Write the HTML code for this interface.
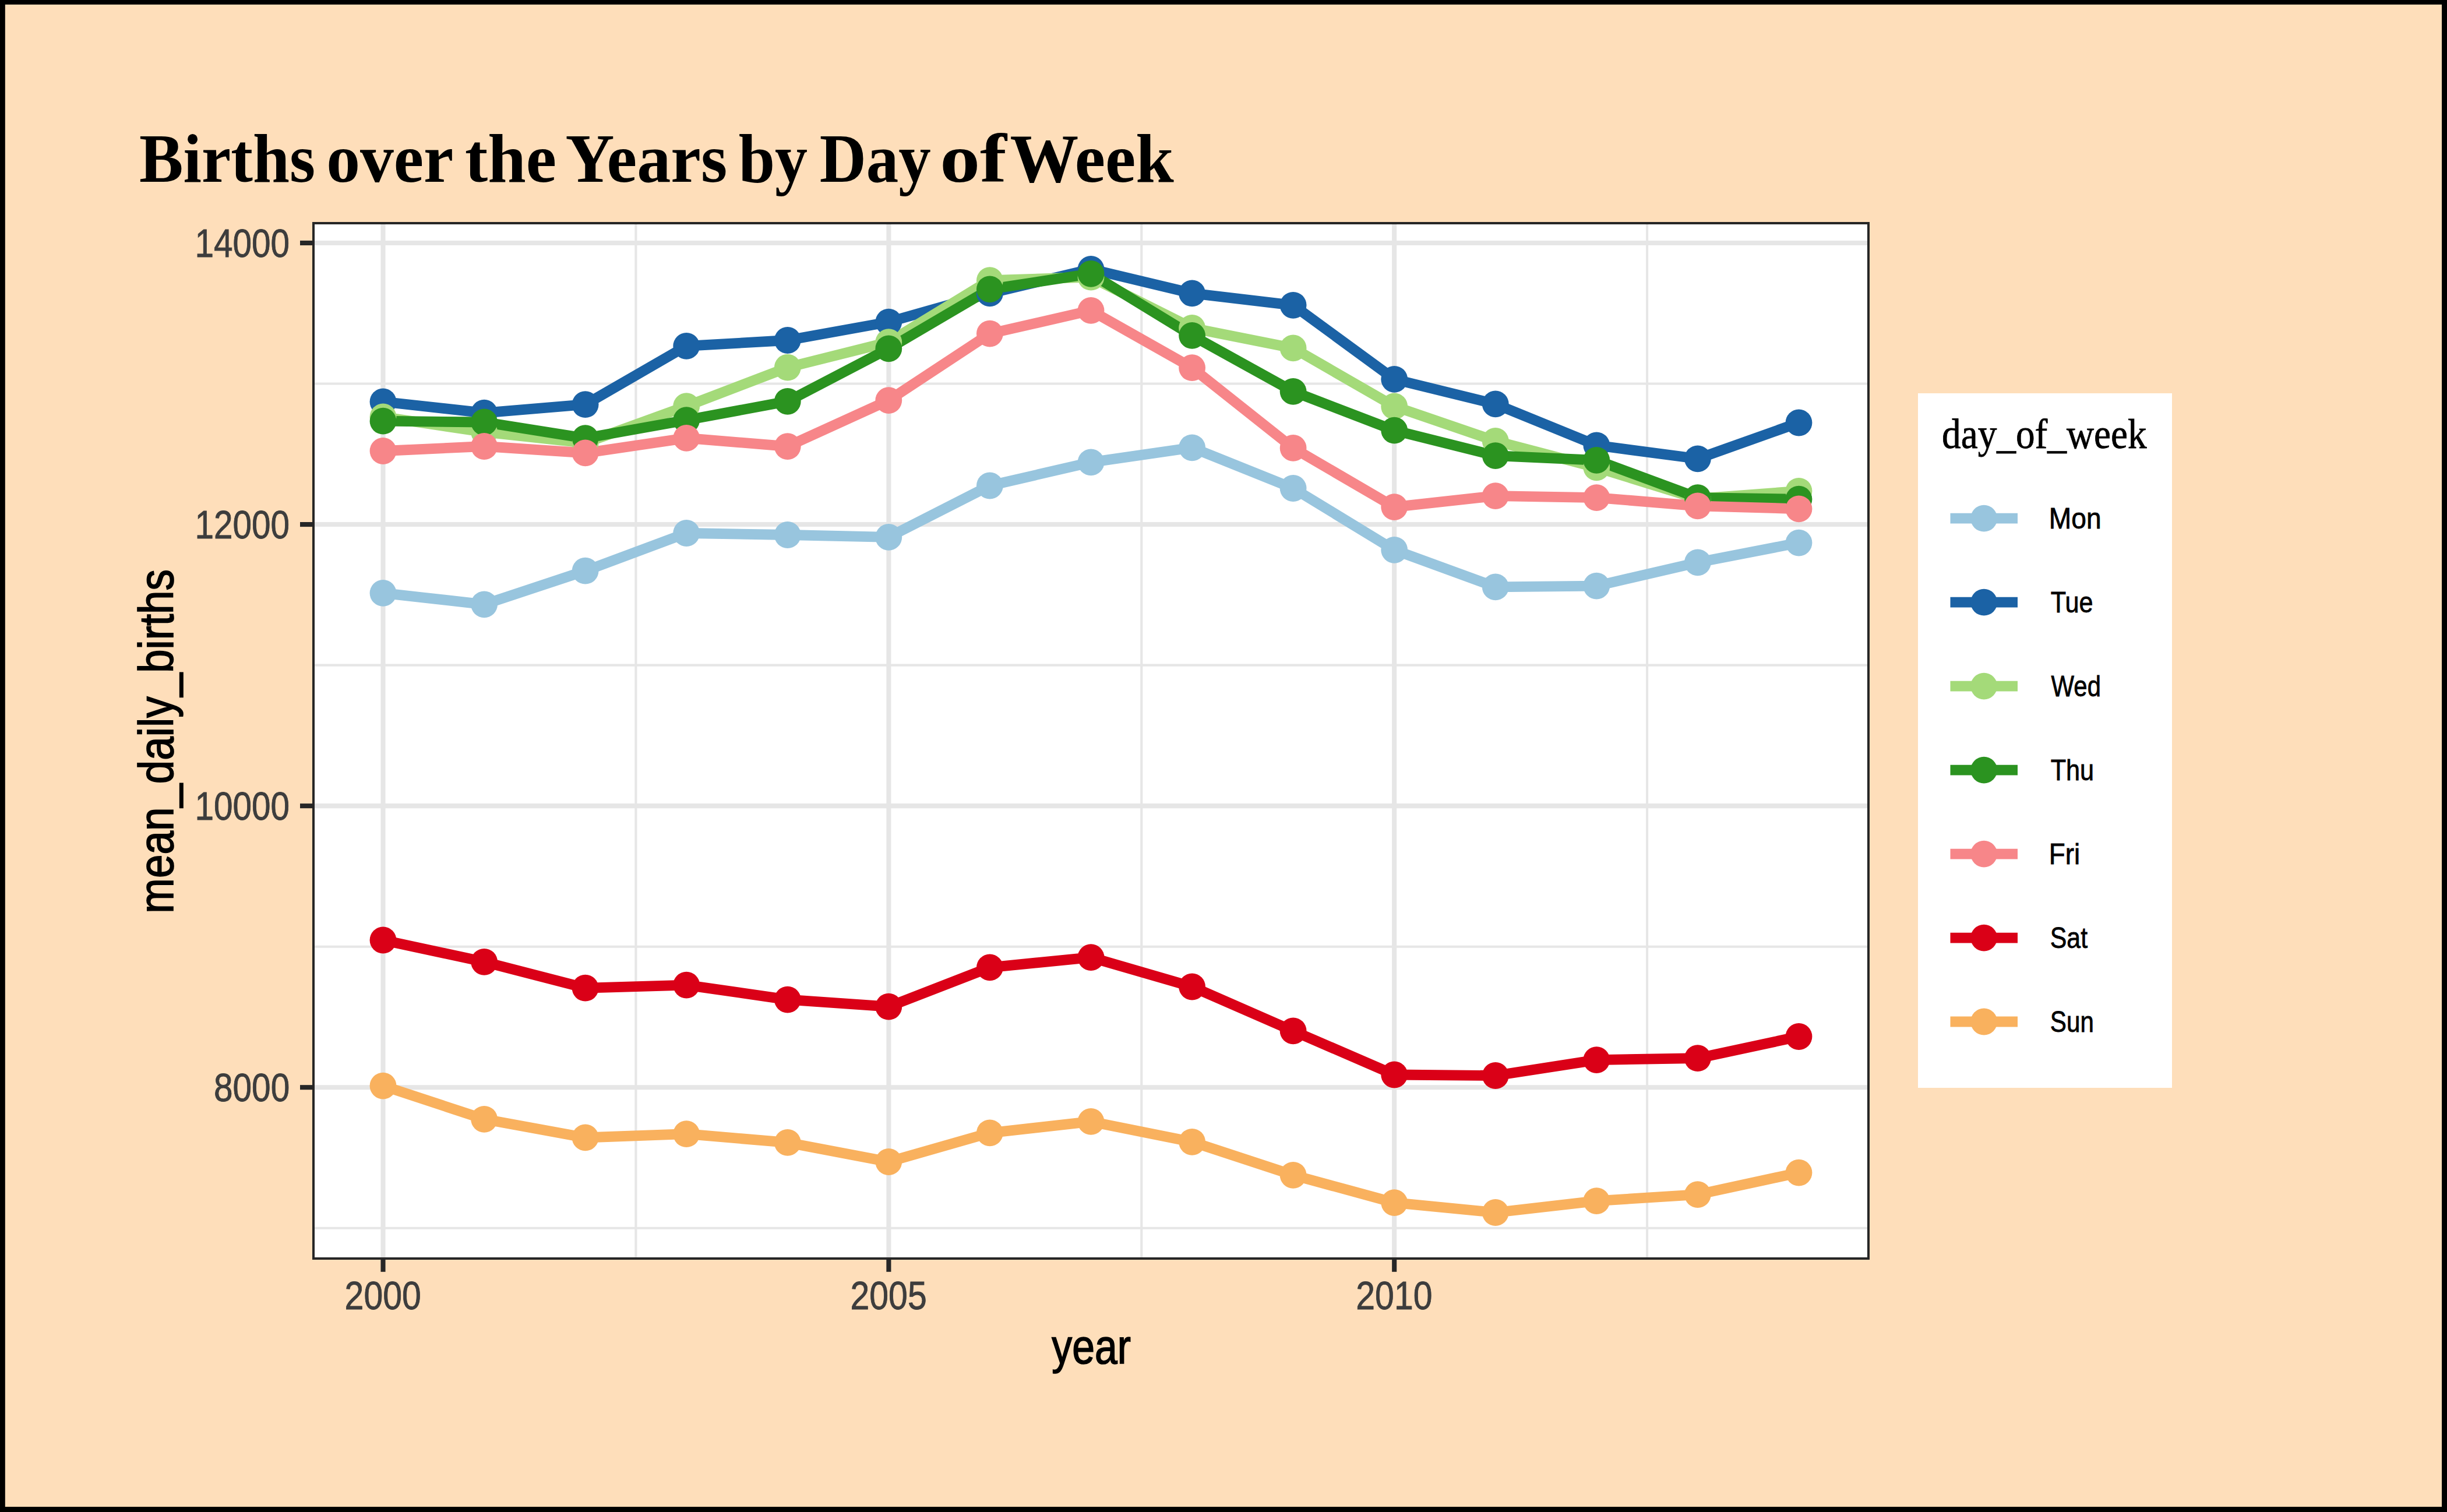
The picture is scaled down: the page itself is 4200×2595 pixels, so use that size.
<!DOCTYPE html>
<html lang="en">
<head>
<meta charset="utf-8">
<title>Births over the Years by Day of Week</title>
<style>
html,body{margin:0;padding:0;background:#FEDEBA;}
body{width:4200px;height:2595px;}
svg{display:block;}
text{white-space:pre;}
.sans{font-family:"Liberation Sans",sans-serif;}
.serif{font-family:"Liberation Serif",serif;}
</style>
</head>
<body>
<svg width="4200" height="2595" viewBox="0 0 4200 2595">
<rect x="0" y="0" width="4200" height="2595" fill="#FEDEBA"/>
<g fill="#000"><rect x="0" y="0" width="8.8" height="2595"/><rect x="0" y="0" width="4200" height="7.8"/><rect x="4191.1" y="0" width="8.9" height="2595"/><rect x="0" y="2586.1" width="4200" height="8.9"/></g>
<rect x="536" y="381" width="2673" height="1781" fill="#FFFFFF"/>
<clipPath id="pc"><rect x="536" y="381" width="2673" height="1781"/></clipPath>
<g clip-path="url(#pc)">
<line x1="536" x2="3209" y1="658.5" y2="658.5" stroke="#E6E6E6" stroke-width="4.1"/>
<line x1="536" x2="3209" y1="1141.6" y2="1141.6" stroke="#E6E6E6" stroke-width="4.1"/>
<line x1="536" x2="3209" y1="1624.7" y2="1624.7" stroke="#E6E6E6" stroke-width="4.1"/>
<line x1="536" x2="3209" y1="2107.7" y2="2107.7" stroke="#E6E6E6" stroke-width="4.1"/>
<line x1="1091.4" x2="1091.4" y1="381" y2="2162" stroke="#E6E6E6" stroke-width="4.1"/>
<line x1="1959.3" x2="1959.3" y1="381" y2="2162" stroke="#E6E6E6" stroke-width="4.1"/>
<line x1="2827.1" x2="2827.1" y1="381" y2="2162" stroke="#E6E6E6" stroke-width="4.1"/>
<line x1="536" x2="3209" y1="417" y2="417" stroke="#E6E6E6" stroke-width="8.1"/>
<line x1="536" x2="3209" y1="900.07" y2="900.07" stroke="#E6E6E6" stroke-width="8.1"/>
<line x1="536" x2="3209" y1="1383.14" y2="1383.14" stroke="#E6E6E6" stroke-width="8.1"/>
<line x1="536" x2="3209" y1="1866.2" y2="1866.2" stroke="#E6E6E6" stroke-width="8.1"/>
<line x1="657.5" x2="657.5" y1="381" y2="2162" stroke="#E6E6E6" stroke-width="8.1"/>
<line x1="1525.4" x2="1525.4" y1="381" y2="2162" stroke="#E6E6E6" stroke-width="8.1"/>
<line x1="2393.2" x2="2393.2" y1="381" y2="2162" stroke="#E6E6E6" stroke-width="8.1"/>
<polyline points="657.5,1017.9 831.1,1037.3 1004.6,979.7 1178.2,915.0 1351.8,918.0 1525.3,921.9 1698.9,833.5 1872.5,793.4 2046.1,768.3 2219.6,838.0 2393.2,943.8 2566.8,1007.4 2740.3,1005.6 2913.9,965.3 3087.5,931.6" fill="none" stroke="#98C5DE" stroke-width="17.8" stroke-linejoin="round" stroke-linecap="butt"/>
<polyline points="657.5,689.5 831.1,708.6 1004.6,694.2 1178.2,593.9 1351.8,584.0 1525.3,552.7 1698.9,503.4 1872.5,461.9 2046.1,503.4 2219.6,523.8 2393.2,650.8 2566.8,693.4 2740.3,764.3 2913.9,787.3 3087.5,725.5" fill="none" stroke="#1B62A5" stroke-width="17.8" stroke-linejoin="round" stroke-linecap="butt"/>
<polyline points="657.5,715.5 831.1,741.5 1004.6,760.2 1178.2,697.1 1351.8,630.7 1525.3,587.2 1698.9,481.2 1872.5,475.7 2046.1,562.9 2219.6,597.4 2393.2,697.4 2566.8,756.9 2740.3,802.3 2913.9,855.9 3087.5,842.8" fill="none" stroke="#A4DA79" stroke-width="17.8" stroke-linejoin="round" stroke-linecap="butt"/>
<polyline points="657.5,722.7 831.1,724.5 1004.6,752.1 1178.2,721.1 1351.8,688.8 1525.3,598.3 1698.9,496.3 1872.5,469.8 2046.1,575.9 2219.6,671.9 2393.2,738.6 2566.8,782.1 2740.3,789.8 2913.9,854.2 3087.5,856.7" fill="none" stroke="#2B9320" stroke-width="17.8" stroke-linejoin="round" stroke-linecap="butt"/>
<polyline points="657.5,774.0 831.1,766.0 1004.6,777.4 1178.2,751.9 1351.8,766.1 1525.3,687.1 1698.9,572.6 1872.5,532.9 2046.1,631.2 2219.6,768.9 2393.2,870.1 2566.8,851.1 2740.3,854.1 2913.9,868.3 3087.5,873.3" fill="none" stroke="#F78689" stroke-width="17.8" stroke-linejoin="round" stroke-linecap="butt"/>
<polyline points="657.5,1613.5 831.1,1650.8 1004.6,1695.7 1178.2,1690.6 1351.8,1715.6 1525.3,1727.7 1698.9,1660.4 1872.5,1643.1 2046.1,1693.5 2219.6,1769.3 2393.2,1844.5 2566.8,1846.0 2740.3,1819.1 2913.9,1816.2 3087.5,1779.0" fill="none" stroke="#DA0017" stroke-width="17.8" stroke-linejoin="round" stroke-linecap="butt"/>
<polyline points="657.5,1863.6 831.1,1920.8 1004.6,1952.4 1178.2,1946.2 1351.8,1960.9 1525.3,1994.0 1698.9,1944.3 1872.5,1924.9 2046.1,1959.8 2219.6,2016.8 2393.2,2064.1 2566.8,2081.0 2740.3,2061.1 2913.9,2050.1 3087.5,2012.6" fill="none" stroke="#F9B15E" stroke-width="17.8" stroke-linejoin="round" stroke-linecap="butt"/>
<g fill="#98C5DE"><circle cx="657.5" cy="1017.9" r="22.9"/><circle cx="831.1" cy="1037.3" r="22.9"/><circle cx="1004.6" cy="979.7" r="22.9"/><circle cx="1178.2" cy="915.0" r="22.9"/><circle cx="1351.8" cy="918.0" r="22.9"/><circle cx="1525.3" cy="921.9" r="22.9"/><circle cx="1698.9" cy="833.5" r="22.9"/><circle cx="1872.5" cy="793.4" r="22.9"/><circle cx="2046.1" cy="768.3" r="22.9"/><circle cx="2219.6" cy="838.0" r="22.9"/><circle cx="2393.2" cy="943.8" r="22.9"/><circle cx="2566.8" cy="1007.4" r="22.9"/><circle cx="2740.3" cy="1005.6" r="22.9"/><circle cx="2913.9" cy="965.3" r="22.9"/><circle cx="3087.5" cy="931.6" r="22.9"/></g>
<g fill="#1B62A5"><circle cx="657.5" cy="689.5" r="22.9"/><circle cx="831.1" cy="708.6" r="22.9"/><circle cx="1004.6" cy="694.2" r="22.9"/><circle cx="1178.2" cy="593.9" r="22.9"/><circle cx="1351.8" cy="584.0" r="22.9"/><circle cx="1525.3" cy="552.7" r="22.9"/><circle cx="1698.9" cy="503.4" r="22.9"/><circle cx="1872.5" cy="461.9" r="22.9"/><circle cx="2046.1" cy="503.4" r="22.9"/><circle cx="2219.6" cy="523.8" r="22.9"/><circle cx="2393.2" cy="650.8" r="22.9"/><circle cx="2566.8" cy="693.4" r="22.9"/><circle cx="2740.3" cy="764.3" r="22.9"/><circle cx="2913.9" cy="787.3" r="22.9"/><circle cx="3087.5" cy="725.5" r="22.9"/></g>
<g fill="#A4DA79"><circle cx="657.5" cy="715.5" r="22.9"/><circle cx="831.1" cy="741.5" r="22.9"/><circle cx="1004.6" cy="760.2" r="22.9"/><circle cx="1178.2" cy="697.1" r="22.9"/><circle cx="1351.8" cy="630.7" r="22.9"/><circle cx="1525.3" cy="587.2" r="22.9"/><circle cx="1698.9" cy="481.2" r="22.9"/><circle cx="1872.5" cy="475.7" r="22.9"/><circle cx="2046.1" cy="562.9" r="22.9"/><circle cx="2219.6" cy="597.4" r="22.9"/><circle cx="2393.2" cy="697.4" r="22.9"/><circle cx="2566.8" cy="756.9" r="22.9"/><circle cx="2740.3" cy="802.3" r="22.9"/><circle cx="2913.9" cy="855.9" r="22.9"/><circle cx="3087.5" cy="842.8" r="22.9"/></g>
<g fill="#2B9320"><circle cx="657.5" cy="722.7" r="22.9"/><circle cx="831.1" cy="724.5" r="22.9"/><circle cx="1004.6" cy="752.1" r="22.9"/><circle cx="1178.2" cy="721.1" r="22.9"/><circle cx="1351.8" cy="688.8" r="22.9"/><circle cx="1525.3" cy="598.3" r="22.9"/><circle cx="1698.9" cy="496.3" r="22.9"/><circle cx="1872.5" cy="469.8" r="22.9"/><circle cx="2046.1" cy="575.9" r="22.9"/><circle cx="2219.6" cy="671.9" r="22.9"/><circle cx="2393.2" cy="738.6" r="22.9"/><circle cx="2566.8" cy="782.1" r="22.9"/><circle cx="2740.3" cy="789.8" r="22.9"/><circle cx="2913.9" cy="854.2" r="22.9"/><circle cx="3087.5" cy="856.7" r="22.9"/></g>
<g fill="#F78689"><circle cx="657.5" cy="774.0" r="22.9"/><circle cx="831.1" cy="766.0" r="22.9"/><circle cx="1004.6" cy="777.4" r="22.9"/><circle cx="1178.2" cy="751.9" r="22.9"/><circle cx="1351.8" cy="766.1" r="22.9"/><circle cx="1525.3" cy="687.1" r="22.9"/><circle cx="1698.9" cy="572.6" r="22.9"/><circle cx="1872.5" cy="532.9" r="22.9"/><circle cx="2046.1" cy="631.2" r="22.9"/><circle cx="2219.6" cy="768.9" r="22.9"/><circle cx="2393.2" cy="870.1" r="22.9"/><circle cx="2566.8" cy="851.1" r="22.9"/><circle cx="2740.3" cy="854.1" r="22.9"/><circle cx="2913.9" cy="868.3" r="22.9"/><circle cx="3087.5" cy="873.3" r="22.9"/></g>
<g fill="#DA0017"><circle cx="657.5" cy="1613.5" r="22.9"/><circle cx="831.1" cy="1650.8" r="22.9"/><circle cx="1004.6" cy="1695.7" r="22.9"/><circle cx="1178.2" cy="1690.6" r="22.9"/><circle cx="1351.8" cy="1715.6" r="22.9"/><circle cx="1525.3" cy="1727.7" r="22.9"/><circle cx="1698.9" cy="1660.4" r="22.9"/><circle cx="1872.5" cy="1643.1" r="22.9"/><circle cx="2046.1" cy="1693.5" r="22.9"/><circle cx="2219.6" cy="1769.3" r="22.9"/><circle cx="2393.2" cy="1844.5" r="22.9"/><circle cx="2566.8" cy="1846.0" r="22.9"/><circle cx="2740.3" cy="1819.1" r="22.9"/><circle cx="2913.9" cy="1816.2" r="22.9"/><circle cx="3087.5" cy="1779.0" r="22.9"/></g>
<g fill="#F9B15E"><circle cx="657.5" cy="1863.6" r="22.9"/><circle cx="831.1" cy="1920.8" r="22.9"/><circle cx="1004.6" cy="1952.4" r="22.9"/><circle cx="1178.2" cy="1946.2" r="22.9"/><circle cx="1351.8" cy="1960.9" r="22.9"/><circle cx="1525.3" cy="1994.0" r="22.9"/><circle cx="1698.9" cy="1944.3" r="22.9"/><circle cx="1872.5" cy="1924.9" r="22.9"/><circle cx="2046.1" cy="1959.8" r="22.9"/><circle cx="2219.6" cy="2016.8" r="22.9"/><circle cx="2393.2" cy="2064.1" r="22.9"/><circle cx="2566.8" cy="2081.0" r="22.9"/><circle cx="2740.3" cy="2061.1" r="22.9"/><circle cx="2913.9" cy="2050.1" r="22.9"/><circle cx="3087.5" cy="2012.6" r="22.9"/></g>
<rect x="536" y="381" width="2673" height="1781" fill="none" stroke="#262626" stroke-width="8.1"/>
</g>
<line x1="515" x2="536" y1="417" y2="417" stroke="#262626" stroke-width="8.1"/>
<line x1="515" x2="536" y1="900.07" y2="900.07" stroke="#262626" stroke-width="8.1"/>
<line x1="515" x2="536" y1="1383.14" y2="1383.14" stroke="#262626" stroke-width="8.1"/>
<line x1="515" x2="536" y1="1866.2" y2="1866.2" stroke="#262626" stroke-width="8.1"/>
<line x1="657.5" x2="657.5" y1="2162" y2="2182.8" stroke="#262626" stroke-width="8.1"/>
<line x1="1525.4" x2="1525.4" y1="2162" y2="2182.8" stroke="#262626" stroke-width="8.1"/>
<line x1="2393.2" x2="2393.2" y1="2162" y2="2182.8" stroke="#262626" stroke-width="8.1"/>
<rect x="3292" y="675" width="436" height="1192" fill="#FFFFFF"/>
<line x1="3347.5" x2="3463" y1="889.7" y2="889.7" stroke="#98C5DE" stroke-width="17.8"/><circle cx="3405.2" cy="889.7" r="22.9" fill="#98C5DE"/>
<line x1="3347.5" x2="3463" y1="1033.7" y2="1033.7" stroke="#1B62A5" stroke-width="17.8"/><circle cx="3405.2" cy="1033.7" r="22.9" fill="#1B62A5"/>
<line x1="3347.5" x2="3463" y1="1177.6" y2="1177.6" stroke="#A4DA79" stroke-width="17.8"/><circle cx="3405.2" cy="1177.6" r="22.9" fill="#A4DA79"/>
<line x1="3347.5" x2="3463" y1="1321.6" y2="1321.6" stroke="#2B9320" stroke-width="17.8"/><circle cx="3405.2" cy="1321.6" r="22.9" fill="#2B9320"/>
<line x1="3347.5" x2="3463" y1="1465.6" y2="1465.6" stroke="#F78689" stroke-width="17.8"/><circle cx="3405.2" cy="1465.6" r="22.9" fill="#F78689"/>
<line x1="3347.5" x2="3463" y1="1609.6" y2="1609.6" stroke="#DA0017" stroke-width="17.8"/><circle cx="3405.2" cy="1609.6" r="22.9" fill="#DA0017"/>
<line x1="3347.5" x2="3463" y1="1753.5" y2="1753.5" stroke="#F9B15E" stroke-width="17.8"/><circle cx="3405.2" cy="1753.5" r="22.9" fill="#F9B15E"/>
<text class="serif" y="311.60" font-size="118.6" font-weight="bold" fill="#000"><tspan x="238.99" textLength="302.16" lengthAdjust="spacingAndGlyphs">Births</tspan> <tspan x="560.17" textLength="216.21" lengthAdjust="spacingAndGlyphs">over</tspan> <tspan x="798.01" textLength="157.06" lengthAdjust="spacingAndGlyphs">the</tspan> <tspan x="970.44" textLength="277.73" lengthAdjust="spacingAndGlyphs">Years</tspan> <tspan x="1267.71" textLength="118.28" lengthAdjust="spacingAndGlyphs">by</tspan> <tspan x="1406.63" textLength="191.04" lengthAdjust="spacingAndGlyphs">Day</tspan> <tspan x="1613.19" textLength="114.71" lengthAdjust="spacingAndGlyphs">of</tspan> <tspan x="1733.51" textLength="281.37" lengthAdjust="spacingAndGlyphs">Week</tspan></text>
<text class="sans" x="334.50" y="441.00" font-size="68" fill="#3D3D3D" stroke="#3D3D3D" stroke-width="0.9" textLength="162.60" lengthAdjust="spacingAndGlyphs">14000</text>
<text class="sans" x="334.50" y="924.07" font-size="68" fill="#3D3D3D" stroke="#3D3D3D" stroke-width="0.9" textLength="162.60" lengthAdjust="spacingAndGlyphs">12000</text>
<text class="sans" x="334.50" y="1407.14" font-size="68" fill="#3D3D3D" stroke="#3D3D3D" stroke-width="0.9" textLength="162.60" lengthAdjust="spacingAndGlyphs">10000</text>
<text class="sans" x="366.92" y="1890.20" font-size="68" fill="#3D3D3D" stroke="#3D3D3D" stroke-width="0.9" textLength="130.35" lengthAdjust="spacingAndGlyphs">8000</text>
<text class="sans" x="591.60" y="2247.30" font-size="68" fill="#3D3D3D" stroke="#3D3D3D" stroke-width="0.9" textLength="131.18" lengthAdjust="spacingAndGlyphs">2000</text>
<text class="sans" x="1459.50" y="2247.30" font-size="68" fill="#3D3D3D" stroke="#3D3D3D" stroke-width="0.9" textLength="131.18" lengthAdjust="spacingAndGlyphs">2005</text>
<text class="sans" x="2327.30" y="2247.30" font-size="68" fill="#3D3D3D" stroke="#3D3D3D" stroke-width="0.9" textLength="131.18" lengthAdjust="spacingAndGlyphs">2010</text>
<text class="sans" x="-296.38" y="0.00" font-size="83" fill="#000" stroke="#000" stroke-width="1.7" textLength="590.67" lengthAdjust="spacingAndGlyphs" transform="translate(296.8,1271.3) rotate(-90)">mean_daily_births</text>
<text class="sans" x="1805.34" y="2339.80" font-size="83" fill="#000" stroke="#000" stroke-width="1.7" textLength="135.55" lengthAdjust="spacingAndGlyphs">year</text>
<text class="serif" x="3333.09" y="769.20" font-size="72" fill="#000" stroke="#000" stroke-width="0.8" textLength="351.47" lengthAdjust="spacingAndGlyphs">day_of_week</text>
<text class="sans" x="3516.77" y="907.35" font-size="49.5" fill="#000" stroke="#000" stroke-width="0.8" textLength="89.80" lengthAdjust="spacingAndGlyphs">Mon</text>
<text class="sans" x="3519.63" y="1051.32" font-size="49.5" fill="#000" stroke="#000" stroke-width="0.8" textLength="72.85" lengthAdjust="spacingAndGlyphs">Tue</text>
<text class="sans" x="3520.50" y="1195.29" font-size="49.5" fill="#000" stroke="#000" stroke-width="0.8" textLength="85.45" lengthAdjust="spacingAndGlyphs">Wed</text>
<text class="sans" x="3519.63" y="1339.26" font-size="49.5" fill="#000" stroke="#000" stroke-width="0.8" textLength="74.56" lengthAdjust="spacingAndGlyphs">Thu</text>
<text class="sans" x="3516.81" y="1483.23" font-size="49.5" fill="#000" stroke="#000" stroke-width="0.8" textLength="53.30" lengthAdjust="spacingAndGlyphs">Fri</text>
<text class="sans" x="3518.77" y="1627.20" font-size="49.5" fill="#000" stroke="#000" stroke-width="0.8" textLength="64.30" lengthAdjust="spacingAndGlyphs">Sat</text>
<text class="sans" x="3518.79" y="1771.17" font-size="49.5" fill="#000" stroke="#000" stroke-width="0.8" textLength="75.13" lengthAdjust="spacingAndGlyphs">Sun</text>
</svg>
</body>
</html>
